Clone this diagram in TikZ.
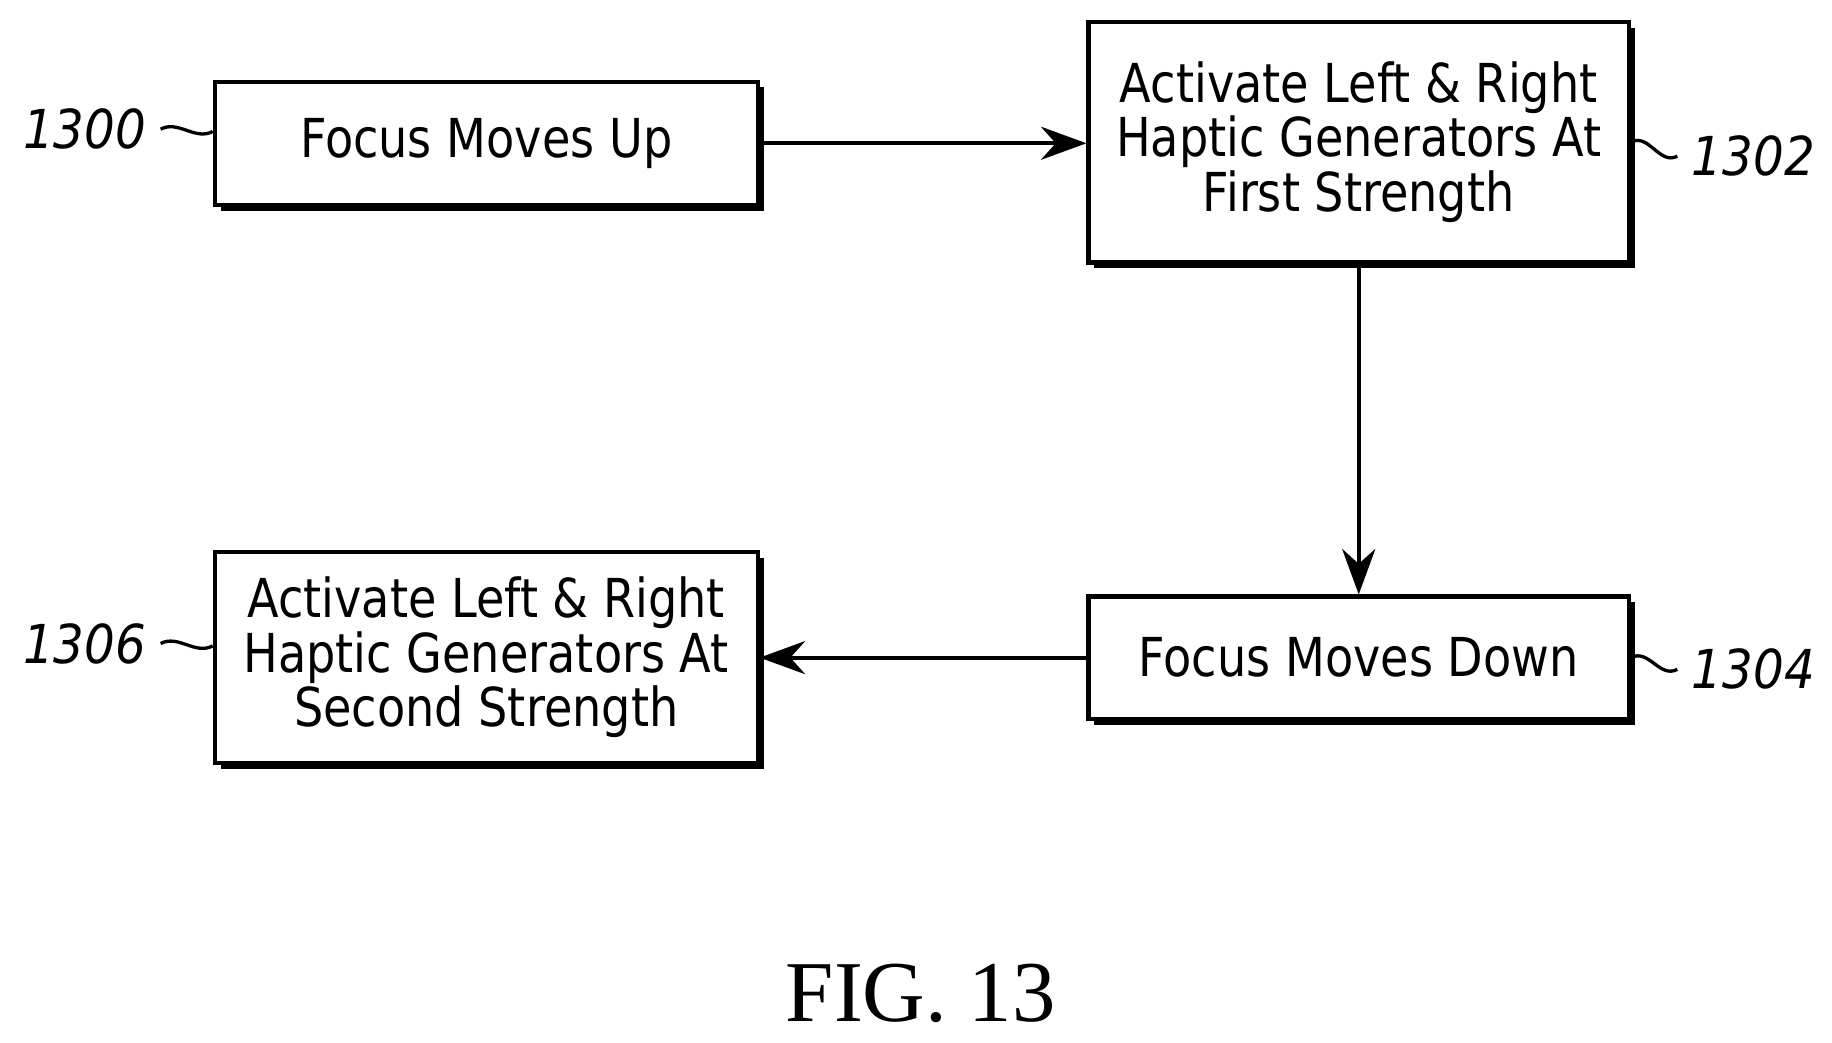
\documentclass[tikz,border=0pt]{standalone}
\usepackage{fontspec}
\setmainfont{Liberation Serif}
\newfontfamily\boxfont[FakeStretch=0.86]{DejaVu Sans}
\newfontfamily\labfont[FakeStretch=0.9]{DejaVu Sans Oblique}
\usetikzlibrary{arrows.meta,shadows}
\begin{document}
\begin{tikzpicture}[x=0.01cm,y=-0.01cm,
  box/.style={draw,line width=1pt,fill=white,inner sep=0pt,align=center,
    font=\boxfont\fontsize{13}{13.2}\selectfont,
    drop shadow={shadow xshift=0.05cm,shadow yshift=-0.05cm,fill=black,opacity=1}},
  lab/.style={font=\labfont\fontsize{13}{14}\selectfont},
  arr/.style={line width=1pt,-{Stealth[length=11pt,width=8pt]}},
  tl/.style={line width=0.8pt}]
\useasboundingbox (0,0) rectangle (1560,888);
\node[box,minimum width=4.62cm,minimum height=1.05cm] (a) at (414,122) {Focus Moves Up};
\node[box,minimum width=4.60cm,minimum height=2.05cm] (b) at (1157,121) {Activate Left \& Right\\Haptic Generators At\\First Strength};
\node[box,minimum width=4.60cm,minimum height=1.04cm] (c) at (1157,560) {Focus Moves Down};
\node[box,minimum width=4.62cm,minimum height=1.80cm] (d) at (414,560) {Activate Left \& Right\\Haptic Generators At\\Second Strength};
\draw[arr] (a.east) -- (b.west |- a.east);
\draw[arr] (b.south) -- (c.north);
\draw[arr] (c.west) -- (d.east |- c.west);
\node[lab] (la) at (72,110) {1300};
\node[lab] (lb) at (1493,133) {1302};
\node[lab] (lc) at (1493,570) {1304};
\node[lab] (ld) at (72,548) {1306};
\draw[tl] (la.east) .. controls +(15,-8) and +(-15,8) .. ([yshift=0.1cm]a.west);
\draw[tl] (ld.east) .. controls +(15,-8) and +(-15,8) .. ([yshift=0.1cm]d.west);
\draw[tl] (b.east) .. controls +(15,-8) and +(-15,8) .. (lb.west);
\draw[tl] (c.east) .. controls +(15,-8) and +(-15,8) .. (lc.west);
\node[font=\fontsize{21}{23}\selectfont] (f) at (784,846) {FIG. 13};
\end{tikzpicture}
\end{document}
